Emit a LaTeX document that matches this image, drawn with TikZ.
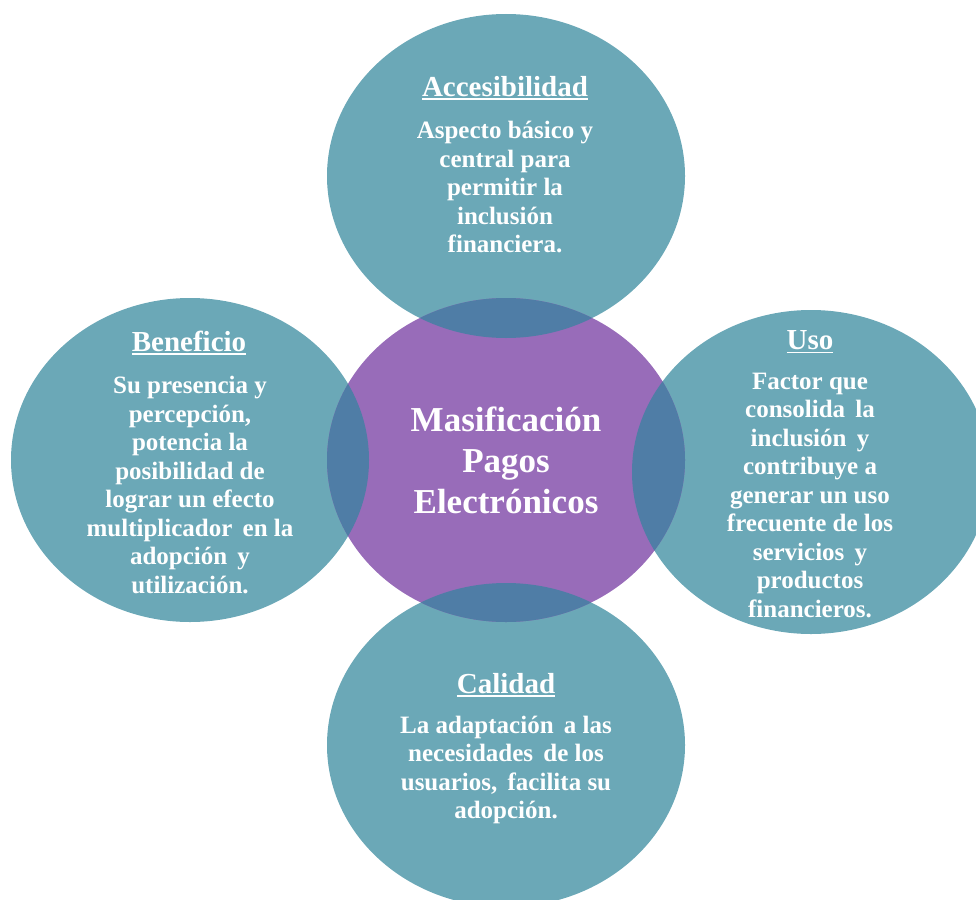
\documentclass[tikz,border=0pt]{standalone}
\usepackage{fontspec}
\setmainfont{Liberation Serif}
\usetikzlibrary{shapes.geometric}

\definecolor{tealfill}{RGB}{107,168,183}
\definecolor{purplefill}{RGB}{152,108,185}
\definecolor{overlapfill}{RGB}{79,125,166}

% underlined heading with a rule that scales with the text
\newcommand\headline[1]{\setbox0=\hbox{#1}\leavevmode\rlap{\rule[-4pt]{\wd0}{1.8pt}}\box0}
% slightly wider word gap
\newcommand\wgap{\hspace{4pt}}

\tikzset{
  bubble/.style={ellipse, inner sep=0pt, minimum width=358pt, minimum height=324pt, draw=none},
  side/.style={bubble, fill=tealfill},
  hub/.style={bubble, fill=purplefill},
  heading/.style={text=white, font=\fontsize{29}{34}\selectfont\bfseries, inner sep=0pt},
  body/.style={text=white, align=center, font=\fontsize{25}{28.5}\selectfont\bfseries, inner sep=0pt},
  title/.style={text=white, align=center, font=\fontsize{35}{41}\selectfont\bfseries, inner sep=0pt}
}

\begin{document}
\begin{tikzpicture}[x=1pt, y=-1pt]
  \useasboundingbox (0,0) rectangle (976,899);
  \begin{scope}
    \clip (0,0) rectangle (976,899);

    % surrounding bubbles
    \node[side] (top) at (506,176) {};
    \node[side] (left) at (190,460) {};
    \node[side] (right) at (811,472) {};
    \node[side] (bottom) at (506,745) {};

    % central bubble
    \node[hub] (hub) at (506,460) {};

    % overlapping lenses between the hub and each side bubble
    \foreach \cx/\cy in {506/176, 190/460, 811/472, 506/745}{
      \begin{scope}
        \clip (506,460) ellipse [x radius=179pt, y radius=162pt];
        \fill[overlapfill] (\cx,\cy) ellipse [x radius=179pt, y radius=162pt];
      \end{scope}
    }
  \end{scope}

  % texts
  \node[title] (hubtext) at (hub.center) {Masificación\\Pagos\\Electrónicos};

  \node[heading] (toph) at (505,88) {\headline{Accesibilidad}};
  \node[body] (topb) at (505,187) {Aspecto básico y\\central para\\permitir la\\inclusión\\financiera.};

  \node[heading] (lefth) at (189,343) {\headline{Beneficio}};
  \node[body] (leftb) at (190,485) {Su presencia y\\percepción,\\potencia la\\posibilidad de\\lograr un efecto\\multiplicador\wgap{} en la\\adopción\wgap{} y\\utilización.};

  \node[heading] (righth) at (810,342) {\headline{Uso}};
  \node[body] (rightb) at (810,495) {Factor que\\consolida\wgap{} la\\inclusión\wgap{} y\\contribuye a\\generar un uso\\frecuente de los\\servicios\wgap{} y\\productos\\financieros.};

  \node[heading] (bottomh) at (506,685) {\headline{Calidad}};
  \node[body] (bottomb) at (506,770) {La adaptación\wgap{} a las\\necesidades\wgap{} de los\\usuarios,\wgap{} facilita su\\adopción.};
\end{tikzpicture}
\end{document}
